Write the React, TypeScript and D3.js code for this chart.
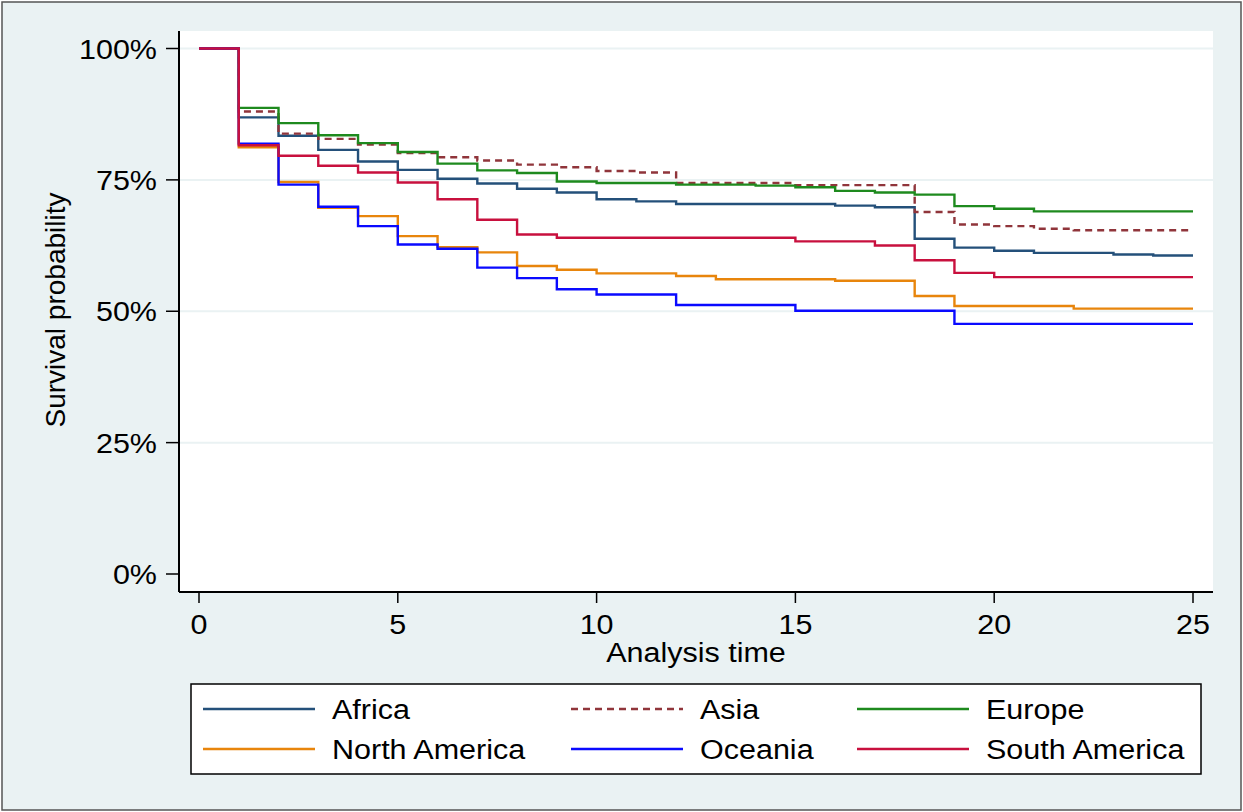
import React from "react";
import * as d3 from "d3";

const times = d3.range(0, 26);

const africa = [100, 86.9, 83.4, 80.7, 78.5, 76.9, 75.2, 74.3, 73.3, 72.6, 71.3, 70.9, 70.4, 70.4, 70.4, 70.4, 70.1, 69.8, 63.8, 62.1, 61.5, 61.1, 61.1, 60.8, 60.6, 60.6];
const asia = [100, 88.0, 83.8, 82.8, 81.7, 80.1, 79.3, 78.7, 77.9, 77.4, 76.7, 76.4, 74.4, 74.4, 74.4, 74.0, 74.0, 74.0, 68.9, 66.5, 66.2, 65.7, 65.4, 65.4, 65.4, 65.4];
const europe = [100, 88.7, 85.8, 83.5, 82.0, 80.3, 78.1, 76.8, 76.3, 74.7, 74.4, 74.4, 74.1, 74.1, 73.9, 73.6, 72.9, 72.6, 72.2, 70.0, 69.5, 69.0, 69.0, 69.0, 69.0, 69.0];
const northAmerica = [100, 81.2, 74.6, 69.7, 68.1, 64.3, 62.2, 61.2, 58.6, 57.9, 57.2, 57.2, 56.7, 56.1, 56.1, 56.1, 55.8, 55.8, 52.9, 51.0, 51.0, 51.0, 50.5, 50.5, 50.5, 50.5];
const oceania = [100, 81.9, 74.1, 69.9, 66.2, 62.7, 61.9, 58.3, 56.3, 54.2, 53.2, 53.2, 51.2, 51.2, 51.2, 50.1, 50.1, 50.1, 50.1, 47.6, 47.6, 47.6, 47.6, 47.6, 47.6, 47.6];
const southAmerica = [100, 81.6, 79.6, 77.7, 76.4, 74.5, 71.3, 67.4, 64.6, 64.0, 64.0, 64.0, 64.0, 64.0, 64.0, 63.3, 63.3, 62.5, 59.7, 57.3, 56.5, 56.5, 56.5, 56.5, 56.5, 56.5];

const seriesNames = ["Africa", "Asia", "Europe", "North America", "Oceania", "South America"];
const seriesValues = [africa, asia, europe, northAmerica, oceania, southAmerica];
const seriesColors = ["#24507a", "#90353b", "#1e8a1e", "#e8850c", "#0a0aff", "#c8103e"];
const seriesDash = [null, "7,5", null, null, null, null];

const xTicks = [0, 5, 10, 15, 20, 25];
const yTicks = [0, 25, 50, 75, 100];
const yGrid = [25, 50, 75, 100];

const FONT = "'Liberation Sans', Arial, Helvetica, sans-serif";
const SX = 1.09;

function T({ x, y, anchor = "start", children, size = 28 }: any) {
  return (
    <text
      transform={`translate(${x},${y}) scale(${SX},1)`}
      textAnchor={anchor}
      fontFamily={FONT}
      fontSize={size}
      fill="#000"
    >
      {children}
    </text>
  );
}

export default function App() {
  const W = 1243, H = 812;
  const plotL = 179, plotR = 1213, plotT = 31, plotB = 592;
  const x = d3.scaleLinear().domain([0, 25]).range([199, 1193]);
  const y = d3.scaleLinear().domain([0, 100]).range([574, 48.5]);
  const line = d3
    .line<number>()
    .x((_, i) => x(times[i]))
    .y((d) => y(d))
    .curve(d3.curveStepAfter);

  const legX = [203, 571, 857];
  const legTextX = [332, 700, 986];
  const legY = [709, 749];

  return (
    <svg width={W} height={H} style={{ position: "absolute", left: 0, top: 0 }}>
      <rect x={0} y={0} width={W} height={H} fill="#fff" />
      <rect x={2} y={2} width={1239} height={808} fill="#eaf2f3" stroke="#555" strokeWidth={1.5} />
      <rect x={plotL} y={plotT} width={plotR - plotL} height={plotB - plotT} fill="#fff" />
      {yGrid.map((v) => (
        <line key={v} x1={plotL} x2={plotR} y1={y(v)} y2={y(v)} stroke="#eaf2f3" strokeWidth={2} />
      ))}
      {seriesValues.map((vals, i) => (
        <path
          key={seriesNames[i]}
          d={line(vals) || ""}
          fill="none"
          stroke={seriesColors[i]}
          strokeWidth={2.4}
          strokeDasharray={seriesDash[i] || undefined}
        />
      ))}
      {/* axes */}
      <line x1={plotL} x2={plotL} y1={plotT} y2={plotB} stroke="#000" strokeWidth={2} />
      <line x1={plotL} x2={plotR} y1={plotB} y2={plotB} stroke="#000" strokeWidth={2} />
      {yTicks.map((v) => (
        <g key={v}>
          <line x1={166} x2={plotL} y1={y(v)} y2={y(v)} stroke="#000" strokeWidth={1.5} />
          <T x={157} y={y(v) + 10} anchor="end">{v}%</T>
        </g>
      ))}
      {xTicks.map((v) => (
        <g key={v}>
          <line x1={x(v)} x2={x(v)} y1={plotB} y2={603} stroke="#000" strokeWidth={1.5} />
          <T x={x(v)} y={634} anchor="middle">{String(v)}</T>
        </g>
      ))}
      <T x={696} y={662} anchor="middle">Analysis time</T>
      <text
        transform={`translate(65,310) rotate(-90)`}
        textAnchor="middle"
        fontFamily={FONT}
        fontSize={28}
        fill="#000"
      >
        Survival probability
      </text>
      {/* legend */}
      <rect x={191} y={684} width={1010} height={90} fill="#fff" stroke="#000" strokeWidth={1.5} />
      {seriesNames.map((name, i) => {
        const col = i % 3;
        const row = Math.floor(i / 3);
        return (
          <g key={name}>
            <line
              x1={legX[col]}
              x2={legX[col] + 112}
              y1={legY[row]}
              y2={legY[row]}
              stroke={seriesColors[i]}
              strokeWidth={2.4}
              strokeDasharray={seriesDash[i] || undefined}
            />
            <T x={legTextX[col]} y={legY[row] + 10}>{name}</T>
          </g>
        );
      })}
    </svg>
  );
}
